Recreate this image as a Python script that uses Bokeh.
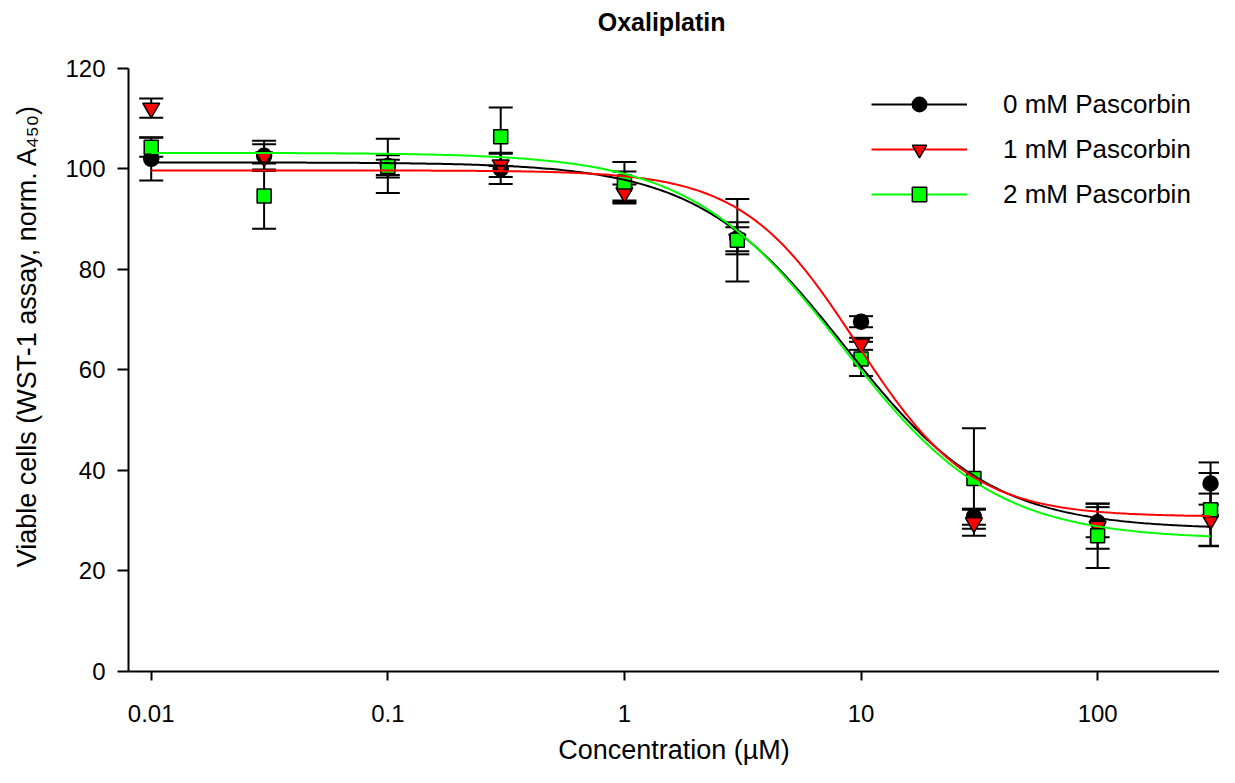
import numpy as np
from bokeh.plotting import figure
from bokeh.models import (Range1d, FixedTicker, CustomJSTickFormatter, Whisker, TeeHead,
                          ColumnDataSource, Legend, LegendItem, Label)
from bokeh.embed import file_html
from bokeh.resources import INLINE

# ---- data ----
conc = [0.01, 0.03, 0.1, 0.3, 1, 3, 10, 30, 100, 300]
series_names = ["0 mM Pascorbin", "1 mM Pascorbin", "2 mM Pascorbin"]

viable_0mM = [102.0, 102.6, 100.6, 100.0, 96.3, 86.2, 69.6, 30.8, 29.7, 37.4]
err_0mM = [4.3, 3.0, 5.4, 3.0, 3.2, 3.2, 1.1, 1.6, 3.0, 4.2]

viable_1mM = [112.1, 102.4, 100.3, 100.8, 95.3, 86.0, 65.2, 29.6, 28.9, 30.2]
err_1mM = [1.9, 2.5, 1.5, 2.4, 1.6, 2.4, 1.2, 2.6, 4.5, 5.2]

viable_2mM = [104.3, 94.6, 100.5, 106.4, 97.4, 85.8, 62.2, 38.4, 27.0, 32.2]
err_2mM = [1.9, 6.5, 2.2, 5.8, 4.0, 8.2, 3.4, 10.0, 6.4, 7.3]

# four-parameter logistic fit parameters of the drawn curves (0, 1, 2 mM)
fit_top = [101.3, 99.7, 103.2]
fit_bottom = [28.3, 30.8, 26.3]
fit_ec50 = [8.5, 9.6, 8.3]
fit_hill = [1.4, 1.8, 1.35]

x_ticks = [0.01, 0.1, 1, 10, 100]
y_ticks = [0, 20, 40, 60, 80, 100, 120]
y_axis_bounds = (0, 120)

title_text = "Oxaliplatin"
x_label = "Concentration (µM)"
y_label = "Viable cells (WST-1 assay, norm. A\u2084\u2085\u2080)"

# ---- styling ----
FONT = "Liberation Sans"
colors = ["#000000", "#ff0000", "#00ff00"]
markers = ["circle", "inverted_triangle", "square"]
msizes = [15, 17, 14]

# the frame reaches the top of the canvas so that the title can sit inside it;
# the y axis itself is bounded to 0..120
FRAME_H = 672
AXIS_H = 604
y_top = y_axis_bounds[1] * FRAME_H / AXIS_H

p = figure(width=1219, height=767, x_axis_type="log",
           x_range=Range1d(10 ** -2.096, 10 ** 2.515), y_range=Range1d(0, y_top),
           output_backend="svg", toolbar_location=None,
           min_border_left=128, min_border_right=0, min_border_top=0, min_border_bottom=95)
p.outline_line_color = None
p.xgrid.visible = False
p.ygrid.visible = False
p.background_fill_color = "white"
p.border_fill_color = "white"

title = Label(x=1.436, y=y_top - 22 * y_top / FRAME_H, x_units="data", y_units="data",
              text=title_text, text_font=FONT, text_font_size="25px", text_font_style="bold",
              text_color="black", text_align="center", text_baseline="middle")
p.add_layout(title)

xa = p.xaxis[0]
xa.ticker = FixedTicker(ticks=x_ticks)
xa.formatter = CustomJSTickFormatter(code="return tick.toString();")
xa.axis_label = x_label
ya = p.yaxis[0]
ya.ticker = FixedTicker(ticks=y_ticks)
ya.bounds = y_axis_bounds
ya.axis_label = y_label
for ax in (xa, ya):
    ax.axis_line_width = 2
    ax.axis_line_color = "black"
    ax.major_tick_line_width = 2
    ax.major_tick_line_color = "black"
    ax.major_tick_in = 0
    ax.minor_tick_line_color = None
    ax.major_label_text_font = FONT
    ax.major_label_text_font_size = "24px"
    ax.major_label_text_color = "black"
    ax.axis_label_text_font = FONT
    ax.axis_label_text_font_size = "27px"
    ax.axis_label_text_font_style = "normal"
    ax.axis_label_text_color = "black"
xa.major_tick_out = 9
xa.major_label_standoff = 24
xa.axis_label_standoff = 10
ya.major_tick_out = 11
ya.major_label_standoff = 12
ya.axis_label_standoff = 20

means = [viable_0mM, viable_1mM, viable_2mM]
errs = [err_0mM, err_1mM, err_2mM]

# error bars (underneath markers)
for m, e in zip(means, errs):
    m = np.array(m)
    e = np.array(e)
    src = ColumnDataSource(dict(x=conc, upper=m + e, lower=m - e))
    w = Whisker(base="x", upper="upper", lower="lower", source=src, level="underlay",
                line_width=2, line_color="black",
                upper_head=TeeHead(size=24, line_width=2, line_color="black"),
                lower_head=TeeHead(size=24, line_width=2, line_color="black"))
    p.add_layout(w)

scatter_rs = []
for m, c, mk, ms in zip(means, colors, markers, msizes):
    r = p.scatter(conc, m, marker=mk, size=ms, fill_color=c, line_color="black", line_width=1.5)
    scatter_rs.append(r)

xs = np.logspace(np.log10(conc[0]), np.log10(conc[-1]), 400)
line_rs = []
for i, c in enumerate(colors):
    ys = fit_bottom[i] + (fit_top[i] - fit_bottom[i]) / (1 + (xs / fit_ec50[i]) ** fit_hill[i])
    r = p.line(xs, ys, line_color=c, line_width=2)
    line_rs.append(r)

items = [LegendItem(label=n, renderers=[lr, sr]) for n, lr, sr in zip(series_names, line_rs, scatter_rs)]
legend = Legend(items=items, location=(743, 459), border_line_color=None,
                background_fill_alpha=0, glyph_width=96, glyph_height=36,
                label_standoff=36, spacing=9, padding=0, margin=0,
                label_text_font=FONT, label_text_font_size="26px", label_text_color="black")
p.add_layout(legend)

open("out.html", "w").write(file_html(p, INLINE))
